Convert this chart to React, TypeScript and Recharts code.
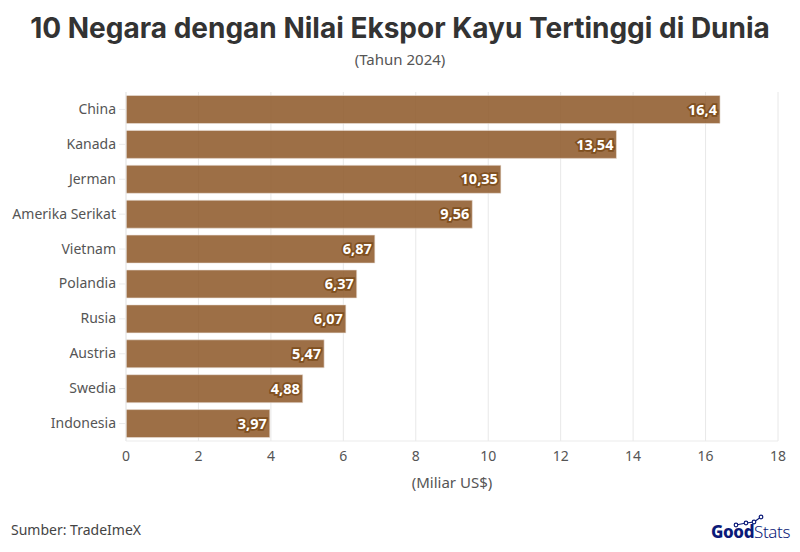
import React from 'react';
import { BarChart, Bar, XAxis, YAxis, CartesianGrid, LabelList } from 'recharts';

const countries = ['China', 'Kanada', 'Jerman', 'Amerika Serikat', 'Vietnam', 'Polandia', 'Rusia', 'Austria', 'Swedia', 'Indonesia'];
const exportValues = [16.4, 13.54, 10.35, 9.56, 6.87, 6.37, 6.07, 5.47, 4.88, 3.97];
const xTicks = [0, 2, 4, 6, 8, 10, 12, 14, 16, 18];

const data = countries.map((country, i) => ({ country, value: exportValues[i] }));

const font = '"Noto Sans", sans-serif';
const formatValue = (v: number) => String(v).replace('.', ',');

export default function App() {
  return (
    <div style={{ position: 'absolute', left: 0, top: 0, width: 800, height: 552, background: '#fff', overflow: 'hidden', fontFamily: font }}>
      {/* Heading */}
      <div style={{ position: 'absolute', top: 11, width: 800, textAlign: 'center', fontFamily: 'Inter, sans-serif', fontSize: 28, fontWeight: 700, color: '#333' }}>
        10 Negara dengan Nilai Ekspor Kayu Tertinggi di Dunia
      </div>
      <div style={{ position: 'absolute', top: 49, width: 800, textAlign: 'center', fontSize: 15, color: '#555' }}>(Tahun 2024)</div>

      {/* Chart */}
      <BarChart
        width={800}
        height={552}
        data={data}
        layout="vertical"
        barCategoryGap="10%"
        margin={{ top: 92, right: 22, bottom: 81, left: 0 }}
      >
        <CartesianGrid horizontal={false} stroke="#e8e8e8" />
        <XAxis
          type="number"
          domain={[0, 18]}
          ticks={xTicks}
          height={30}
          axisLine={{ stroke: '#ebebeb' }}
          tickLine={false}
          tick={{ fill: '#555', fontSize: 14, fontFamily: font }}
          tickMargin={4}
          label={{ value: '(Miliar US$)', position: 'insideBottom', offset: -17, fill: '#555', fontSize: 15, fontFamily: font }}
        />
        <YAxis
          type="category"
          dataKey="country"
          width={126}
          axisLine={{ stroke: '#ebebeb' }}
          tickLine={{ stroke: '#ebebeb' }}
          tickSize={7}
          tick={{ fill: '#555', fontSize: 14, fontFamily: font, dy: -0.5 }}
          tickMargin={3}
          interval={0}
        />
        <Bar dataKey="value" fill="#8f5a2a" fillOpacity={0.87} stroke="#ebe3db" strokeWidth={0.6} isAnimationActive={false}>
          <LabelList
            dataKey="value"
            position="insideRight"
            offset={3}
            formatter={formatValue}
            fill="#fff"
            stroke="#80501f"
            strokeWidth={3.5}
            paintOrder="stroke"
            fontSize={14.5}
            fontWeight={700}
            fontFamily={font}
          />
        </Bar>
      </BarChart>

      {/* Footer */}
      <div style={{ position: 'absolute', left: 11, top: 520, fontSize: 14, color: '#444' }}>Sumber: TradeImeX</div>
      <div style={{ position: 'absolute', left: 711, top: 521, fontSize: 17, lineHeight: '22px', color: '#0b1a78', letterSpacing: -0.4, whiteSpace: 'nowrap' }}>
        <span style={{ fontWeight: 800 }}>Good</span>
        <span style={{ fontWeight: 300 }}>Stats</span>
      </div>
      <svg style={{ position: 'absolute', left: 730, top: 514 }} width={36} height={16}>
        <polyline points="6,11 16,9 24,8 31,3" fill="none" stroke="#0b1a78" strokeWidth={1.2} />
        {[[6, 11], [16, 9], [24, 8], [31, 3]].map(([cx, cy]) => (
          <circle key={cx} cx={cx} cy={cy} r={1.8} fill="#fff" stroke="#0b1a78" strokeWidth={1.2} />
        ))}
      </svg>
    </div>
  );
}
